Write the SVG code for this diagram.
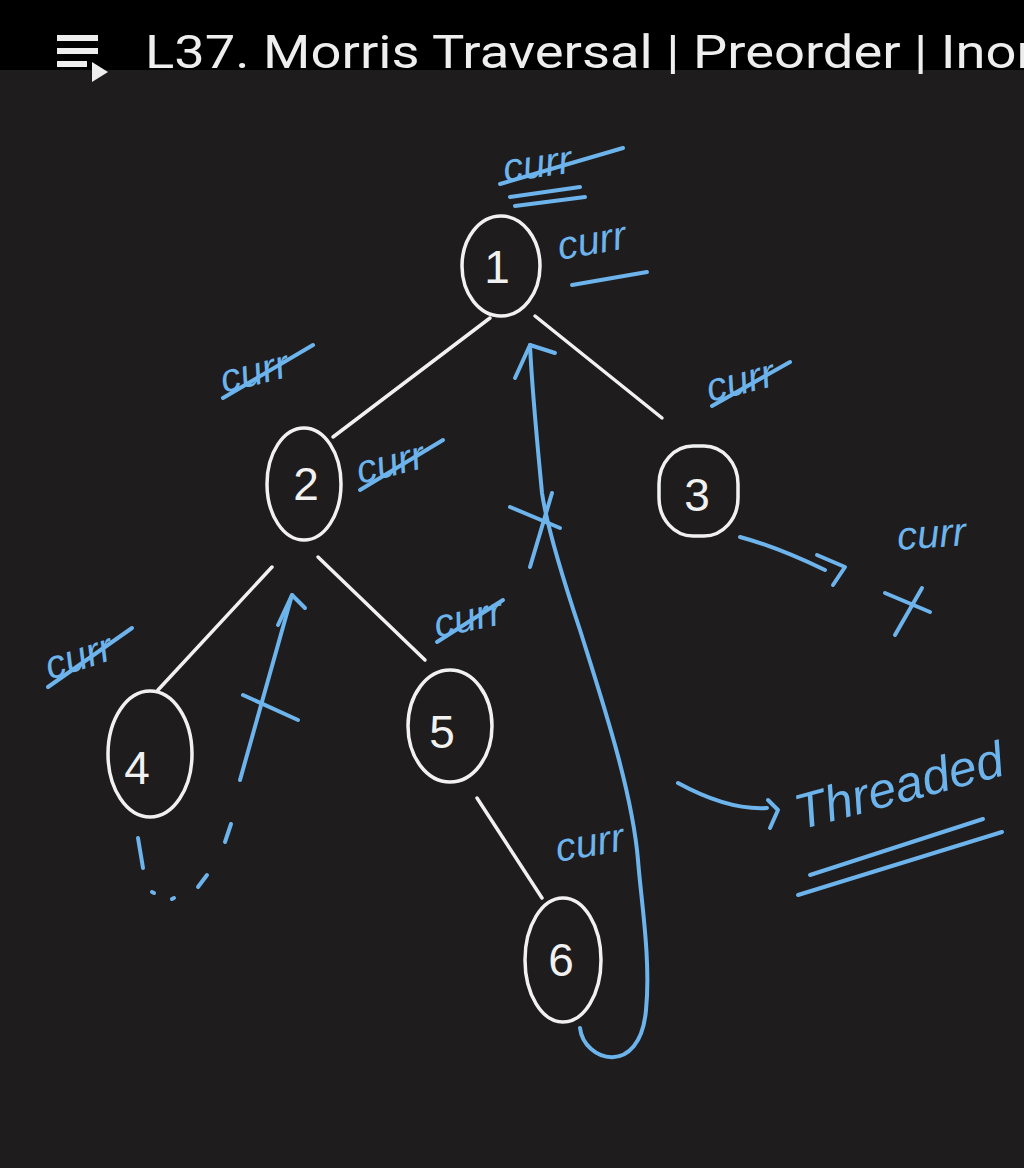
<svg xmlns="http://www.w3.org/2000/svg" width="1024" height="1168" viewBox="0 0 1024 1168">
<style>
.ink{fill:none;stroke:#f1f1f1;stroke-width:3.5;stroke-linecap:round;stroke-linejoin:round}
.blue{fill:none;stroke:#6db3ec;stroke-width:4;stroke-linecap:round;stroke-linejoin:round}
.digit{font-family:"Liberation Sans","DejaVu Sans",sans-serif;font-size:46px;fill:#f1f1f1;text-anchor:middle}
.curr{font-family:"Liberation Sans","DejaVu Sans",sans-serif;font-style:italic;font-size:40px;fill:#6db3ec}
.title{font-family:Roboto,"Liberation Sans",sans-serif;font-size:47px;fill:#eeeeee}
</style>
<rect x="0" y="0" width="1024" height="1168" fill="#1e1c1c"/>
<rect x="0" y="0" width="1024" height="70" fill="#000000"/>
<g id="title-bar">
<rect x="57" y="35" width="41" height="6" fill="#eeeeee"/>
<rect x="57" y="48" width="41" height="6" fill="#eeeeee"/>
<rect x="57" y="61" width="30" height="6" fill="#eeeeee"/>
<polygon points="92,62 108,72 92,82" fill="#eeeeee"/>
<text class="title" x="145" y="68" textLength="890" lengthAdjust="spacingAndGlyphs">L37. Morris Traversal | Preorder | Inor</text>
</g>
<g id="connectors">
<path class="ink" d="M490 318 L333 437"/>
<path class="ink" d="M535 316 L662 418"/>
<path class="ink" d="M272 567 L158 690"/>
<path class="ink" d="M318 557 L425 660"/>
<path class="ink" d="M477 798 L542 898"/>
<path class="blue" d="M580 1028 C584 1062 640 1078 646 1010 C651 960 641 900 638 860 C632 790 602 700 580 630 C560 570 546 520 542 493 C537 440 532 390 530 345"/>
<path class="blue" d="M515 378 L530 345 L555 353"/>
<path class="blue" d="M510 507 L560 528 M552 493 L530 567"/>
<path class="blue" d="M240 780 L292 595"/>
<path class="blue" d="M278 625 L292 595 L305 608"/>
<path class="blue" d="M243 695 L298 720"/>
<path class="blue" d="M138 838 L143 868 M152 892 L154 893 M172 899 L174 898 M198 887 L207 875 M225 842 L231 824"/>
<path class="blue" d="M740 537 C770 545 800 558 825 570"/>
<path class="blue" d="M817 555 L845 567 L833 585"/>
<path class="blue" d="M678 783 C700 795 735 810 767 808"/>
<path class="blue" d="M768 800 L778 810 L770 828"/>
</g>
<g id="node-1"><ellipse class="ink" cx="501" cy="266" rx="39" ry="50"/><text class="digit" x="497" y="283">1</text></g>
<g id="node-2"><ellipse class="ink" cx="304" cy="484" rx="37" ry="56"/><text class="digit" x="306" y="500">2</text></g>
<g id="node-3"><rect class="ink" x="659" y="446" width="79" height="90" rx="34" ry="38"/><text class="digit" x="697" y="511">3</text></g>
<g id="node-4"><ellipse class="ink" cx="150" cy="754" rx="42" ry="63"/><text class="digit" x="137" y="784">4</text></g>
<g id="node-5"><ellipse class="ink" cx="450" cy="726" rx="42" ry="56"/><text class="digit" x="442" y="748">5</text></g>
<g id="node-6"><ellipse class="ink" cx="563" cy="960" rx="38" ry="62"/><text class="digit" x="561" y="976">6</text></g>
<g id="annotations">
<text class="curr" x="505" y="182" transform="rotate(-8 505 182)">curr</text>
<path class="blue" d="M500 184 L623 148 M510 197 L580 187 M515 206 L585 197"/>
<text class="curr" x="560" y="260" transform="rotate(-10 560 260)">curr</text>
<path class="blue" d="M572 285 L647 272"/>
<text class="curr" x="224" y="393" transform="rotate(-14 224 393)">curr</text>
<path class="blue" d="M223 398 L313 345"/>
<text class="curr" x="360" y="484" transform="rotate(-14 360 484)">curr</text>
<path class="blue" d="M360 490 L443 440"/>
<text class="curr" x="710" y="402" transform="rotate(-14 710 402)">curr</text>
<path class="blue" d="M712 406 L790 362"/>
<text class="curr" x="898" y="550" transform="rotate(-4 898 550)">curr</text>
<text class="curr" x="50" y="680" transform="rotate(-18 50 680)">curr</text>
<path class="blue" d="M48 687 L132 628"/>
<text class="curr" x="437" y="638" transform="rotate(-12 437 638)">curr</text>
<path class="blue" d="M437 642 L503 600"/>
<text class="curr" x="558" y="862" transform="rotate(-10 558 862)">curr</text>
<path class="blue" d="M885 593 L930 612 M922 588 L895 635"/>
<text x="800" y="830" transform="rotate(-15 800 830)" font-family="Liberation Sans, DejaVu Sans, sans-serif" font-style="italic" font-size="50" fill="#6db3ec">Threaded</text>
<path class="blue" d="M810 875 L983 819 M798 895 L1002 832"/>
</g>
</svg>
